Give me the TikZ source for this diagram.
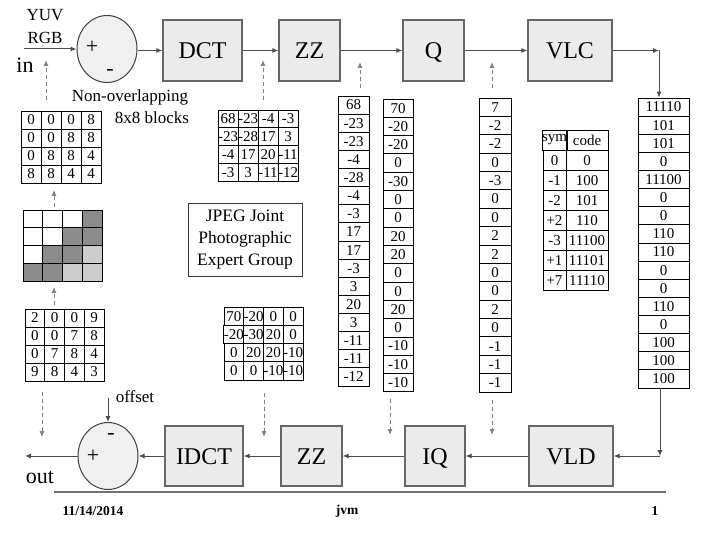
\documentclass[tikz,border=0pt]{standalone}
\usepackage{fontspec}
\setmainfont{Liberation Serif}
\usetikzlibrary{arrows.meta,shapes.geometric}
\definecolor{colD}{HTML}{8C8C8C}
\definecolor{colL}{HTML}{CDCDCD}
\newcommand\numgrid[7]{%
  \foreach \rr [count=\ri] in {#6} {%
    \foreach \vv [count=\ci] in \rr {%
      \node[cell, font=\fontsize{#7}{#7}\selectfont, minimum width=#4pt, minimum height=#5pt]
        (#1-\ri-\ci) at ({#2+(\ci-0.5)*#4},{#3+(\ri-0.5)*#5}) {\vv};
    }%
  }%
}
\begin{document}
\begin{tikzpicture}[x=1pt,y=-1pt,
  blk/.style={draw=black!60, line width=1.3pt, fill=black!8, inner sep=0pt, font=\fontsize{24}{24}\selectfont, text height=16pt, text depth=0pt},
  sumc/.style={ellipse, draw=black!75, line width=1pt, fill=black!6, minimum width=60pt, minimum height=67pt, inner sep=0pt},
  arr/.style={draw=black!70, line width=1pt, -{Latex[length=6pt,width=5pt]}},
  darr/.style={arr, draw=black!50, dash pattern=on 4pt off 3pt},
  cell/.style={draw=black, line width=0.8pt, inner sep=0pt},
  lab/.style={inner sep=0pt, font=\fontsize{17}{17}\selectfont},
  big/.style={inner sep=0pt, font=\fontsize{22}{22}\selectfont},
  foot/.style={inner sep=0pt, font=\fontsize{13.5}{13.5}\selectfont\bfseries},
]
\useasboundingbox (0,0) rectangle (720,540);
\fill[white] (0,0) rectangle (720,540);

% top row
\node[sumc] (s1) at (107,49) {};
\node[big] (s1p) at (92,47) {+};
\node[big] (s1m) at (110,72) {-};
\node[blk, minimum width=79pt, minimum height=61pt] (dct) at (202.5,50.5) {DCT};
\node[blk, minimum width=61pt, minimum height=61pt] (zz) at (309.5,50.5) {ZZ};
\node[blk, minimum width=61pt, minimum height=61pt] (q) at (433.5,50.5) {Q};
\node[blk, minimum width=84pt, minimum height=61pt] (vlc) at (570,50.5) {VLC};

% bottom row
\node[sumc] (s2) at (108,456) {};
\node[big] (s2p) at (93,456) {+};
\node[big] (s2m) at (111,436) {-};
\node[blk, minimum width=78pt, minimum height=60pt] (idct) at (204,456) {IDCT};
\node[blk, minimum width=61pt, minimum height=60pt] (zzb) at (311.5,456) {ZZ};
\node[blk, minimum width=60pt, minimum height=60pt] (iq) at (435,456) {IQ};
\node[blk, minimum width=84pt, minimum height=60pt] (vld) at (571,456) {VLD};

% labels
\node[lab] (yuv) at (45,15) {YUV};
\node[lab] (rgb) at (45,38) {RGB};
\node[big] (in) at (25,65) {in};
\node[lab] (nonov) at (130,97) {Non-overlapping};
\node[lab] (blocks) at (152,118) {8x8 blocks};
\node[lab] (offset) at (135,397) {offset};
\node[big] (out) at (40,477) {out};
\node[draw=black!80, line width=0.8pt, minimum width=114pt, minimum height=73pt, align=center, inner sep=0pt,
      font=\fontsize{17.5}{22}\selectfont] (jpeg) at (245,239.5) {JPEG Joint\\Photographic\\Expert Group};

% grids
\numgrid{m1}{21}{111}{20}{18}{{0,0,0,8},{0,0,8,8},{0,8,8,4},{8,8,4,4}}{15}
\numgrid{m2}{218}{110}{20}{17.75}{{68,-23,-4,-3},{-23,-28,17,3},{-4,17,20,-11},{-3,3,-11,-12}}{15}
\numgrid{m3}{25}{309}{19.75}{18}{{2,0,0,9},{0,0,7,8},{0,7,8,4},{9,8,4,3}}{15}
\numgrid{m4}{224}{307}{19.75}{18.25}{{70,-20,0,0},{-20,-30,20,0},{0,20,20,-10},{0,0,-10,-10}}{15}
\numgrid{c1}{338}{96}{31}{18.125}{68,-23,-23,-4,-28,-4,-3,17,17,-3,3,20,3,-11,-11,-12}{15}
\numgrid{c2}{383}{99}{30}{18.3}{70,-20,-20,0,-30,0,0,20,20,0,0,20,0,-10,-10,-10}{15}
\numgrid{c3}{479}{98}{32}{18.375}{7,-2,-2,0,-3,0,0,2,2,0,0,2,0,-1,-1,-1}{15}
\numgrid{c4}{638}{98}{51}{18.125}{11110,101,101,0,11100,0,0,110,110,0,0,110,0,100,100,100}{15}
\numgrid{t1}{543}{130}{23}{20.1}{sym,0,-1,-2,+2,-3,+1,+7}{15}
\numgrid{t2}{566}{130}{42}{20.1}{code,0,100,101,110,11100,11101,11110}{15}

% gray picture
\foreach \rr [count=\ri] in {{white,white,white,colD},{white,white,colD,colD},{white,colD,colD,colL},{colD,colD,colL,colL}} {
  \foreach \vv [count=\ci] in \rr {
    \node[cell, fill=\vv, minimum width=19.75pt, minimum height=17.75pt] (g-\ri-\ci) at ({23+(\ci-0.5)*19.75},{210+(\ri-0.5)*17.75}) {};
  }
}

% main connectors
\coordinate (inS) at (24,49);
\draw[arr] (inS) -- (s1.west);
\draw[arr] (s1.east |- dct.west) -- (dct.west);
\draw[arr] (dct.east) -- (zz.west);
\draw[arr] (zz.east) -- (q.west);
\draw[arr] (q.east) -- (vlc.west);
\coordinate (k1) at (659,50.5);
\draw[arr] (vlc.east) -- (k1);
\draw[arr] (k1) -- (k1 |- c4-1-1.north);
\coordinate (k2) at (660,456);
\draw[arr] (k2 |- c4-16-1.south) -- (k2);
\draw[arr] (k2) -- (vld.east);
\draw[arr] (vld.west) -- (iq.east);
\draw[arr] (iq.west) -- (zzb.east);
\draw[arr] (zzb.west) -- (idct.east);
\draw[arr] (idct.west) -- (s2.east);
\coordinate (outE) at (25,456);
\draw[arr] (s2.west) -- (outE);
\coordinate (offS) at (108,398);
\draw[arr] (offS) -- (s2.north);

% dashed arrows
\foreach \xa/\ya/\yb [count=\k] in {46/100/60, 54/207/190, 54/305/287, 42/392/437, 263/100/60, 360/88/62, 492/88/62, 264/393/437, 390/399/435, 492/400/435} {
  \coordinate (da\k) at (\xa,\ya);
  \coordinate (db\k) at (\xa,\yb);
  \draw[darr] (da\k) -- (db\k);
}

% footer
\coordinate (fl) at (54,492);
\coordinate (fr) at (666,492);
\draw[draw=black!55, line width=1.5pt] (fl) -- (fr);
\node[foot] (date) at (93,511) {11/14/2014};
\node[foot] (jvm) at (347,511) {jvm};
\node[foot] (pg) at (655,511) {1};
\end{tikzpicture}
\end{document}
